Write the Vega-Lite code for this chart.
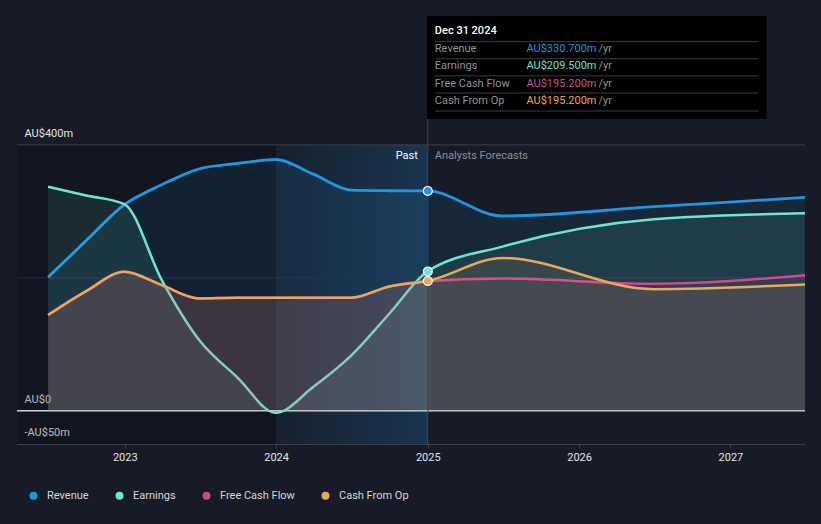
{
  "$schema": "https://vega.github.io/schema/vega-lite/v6.json",
  "width": 788,
  "height": 444,
  "padding": {"left": 17, "top": 0, "right": 16, "bottom": 80},
  "autosize": {"type": "none"},
  "background": "#161b27",
  "config": {
    "view": {"stroke": null},
    "font": "Roboto"
  },
  "datasets": {
    "fin": [
      {"date": "2022-06-30", "series": "Revenue", "value": 201},
      {"date": "2022-09-30", "series": "Revenue", "value": 256},
      {"date": "2022-12-31", "series": "Revenue", "value": 310},
      {"date": "2023-03-31", "series": "Revenue", "value": 340},
      {"date": "2023-06-30", "series": "Revenue", "value": 364},
      {"date": "2023-09-30", "series": "Revenue", "value": 372},
      {"date": "2023-12-31", "series": "Revenue", "value": 378},
      {"date": "2024-03-31", "series": "Revenue", "value": 356},
      {"date": "2024-06-30", "series": "Revenue", "value": 332},
      {"date": "2024-09-30", "series": "Revenue", "value": 331},
      {"date": "2024-12-31", "series": "Revenue", "value": 330.7},
      {"date": "2025-06-30", "series": "Revenue", "value": 293},
      {"date": "2026-06-30", "series": "Revenue", "value": 307},
      {"date": "2027-06-30", "series": "Revenue", "value": 321},
      {"date": "2022-06-30", "series": "Earnings", "value": 337},
      {"date": "2022-09-30", "series": "Earnings", "value": 324},
      {"date": "2022-12-31", "series": "Earnings", "value": 311},
      {"date": "2023-03-31", "series": "Earnings", "value": 197},
      {"date": "2023-06-30", "series": "Earnings", "value": 106},
      {"date": "2023-09-30", "series": "Earnings", "value": 50},
      {"date": "2023-12-31", "series": "Earnings", "value": -3},
      {"date": "2024-03-31", "series": "Earnings", "value": 36},
      {"date": "2024-06-30", "series": "Earnings", "value": 83},
      {"date": "2024-09-30", "series": "Earnings", "value": 146},
      {"date": "2024-12-31", "series": "Earnings", "value": 209.5},
      {"date": "2025-06-30", "series": "Earnings", "value": 247},
      {"date": "2026-06-30", "series": "Earnings", "value": 288},
      {"date": "2027-06-30", "series": "Earnings", "value": 297},
      {"date": "2022-06-30", "series": "Free Cash Flow", "value": 144},
      {"date": "2022-09-30", "series": "Free Cash Flow", "value": 180},
      {"date": "2022-12-31", "series": "Free Cash Flow", "value": 209},
      {"date": "2023-03-31", "series": "Free Cash Flow", "value": 189},
      {"date": "2023-06-30", "series": "Free Cash Flow", "value": 169},
      {"date": "2023-09-30", "series": "Free Cash Flow", "value": 170},
      {"date": "2023-12-31", "series": "Free Cash Flow", "value": 170},
      {"date": "2024-03-31", "series": "Free Cash Flow", "value": 170},
      {"date": "2024-06-30", "series": "Free Cash Flow", "value": 170},
      {"date": "2024-09-30", "series": "Free Cash Flow", "value": 187},
      {"date": "2024-12-31", "series": "Free Cash Flow", "value": 195.2},
      {"date": "2025-06-30", "series": "Free Cash Flow", "value": 199},
      {"date": "2026-06-30", "series": "Free Cash Flow", "value": 191},
      {"date": "2027-06-30", "series": "Free Cash Flow", "value": 204},
      {"date": "2022-06-30", "series": "Cash From Op", "value": 144},
      {"date": "2022-09-30", "series": "Cash From Op", "value": 180},
      {"date": "2022-12-31", "series": "Cash From Op", "value": 209},
      {"date": "2023-03-31", "series": "Cash From Op", "value": 189},
      {"date": "2023-06-30", "series": "Cash From Op", "value": 169},
      {"date": "2023-09-30", "series": "Cash From Op", "value": 170},
      {"date": "2023-12-31", "series": "Cash From Op", "value": 170},
      {"date": "2024-03-31", "series": "Cash From Op", "value": 170},
      {"date": "2024-06-30", "series": "Cash From Op", "value": 170},
      {"date": "2024-09-30", "series": "Cash From Op", "value": 187},
      {"date": "2024-12-31", "series": "Cash From Op", "value": 195.2},
      {"date": "2025-06-30", "series": "Cash From Op", "value": 230},
      {"date": "2026-06-30", "series": "Cash From Op", "value": 183},
      {"date": "2027-06-30", "series": "Cash From Op", "value": 190}
    ],
    "tip": [
      {"row": 1, "series": "Revenue", "label": "Revenue", "value": "AU$330.700m"},
      {"row": 2, "series": "Earnings", "label": "Earnings", "value": "AU$209.500m"},
      {"row": 3, "series": "Free Cash Flow", "label": "Free Cash Flow", "value": "AU$195.200m"},
      {"row": 4, "series": "Cash From Op", "label": "Cash From Op", "value": "AU$195.200m"}
    ]
  },
  "layer": [
    {
      "layer": [
        {
          "data": {"values": [{}]},
          "mark": {"type": "rect", "fill": "#000000", "opacity": 0.2},
          "encoding": {
            "x": {"datum": {"year": 2022, "month": 4, "date": 16, "utc": true}, "type": "temporal",
              "scale": {"domain": [{"year": 2022, "month": 4, "date": 16, "utc": true}, {"year": 2027, "month": 6, "date": 30, "utc": true}]},
              "axis": {"format": "%Y", "tickCount": "year", "grid": false, "domain": true, "domainColor": "#3b414d", "ticks": true, "tickColor": "#3b414d", "tickSize": 4, "labelColor": "#e2e4e8", "labelFontSize": 11, "labelPadding": 3, "title": null}},
            "x2": {"datum": {"year": 2024, "month": 1, "date": 1, "utc": true}},
            "y": {"datum": -50, "type": "quantitative",
              "scale": {"domain": [-50, 618], "nice": false, "zero": false},
              "axis": {"values": [-50, 0, 400], "labelExpr": "datum.value == 400 ? 'AU$400m' : datum.value == 0 ? 'AU$0' : '-AU$50m'", "grid": false, "domain": false, "ticks": false, "tickSize": 0, "labelAlign": "left", "labelBaseline": "alphabetic", "labelPadding": -7, "labelOffset": -8.5, "labelColor": "#e2e4e8", "labelFontSize": 11, "title": null}},
            "y2": {"datum": 400}
          }
        },
        {
          "data": {"values": [{}]},
          "mark": {"type": "rect", "color": {"gradient": "linear", "x1": 0, "y1": 0, "x2": 1, "y2": 0, "stops": [{"offset": 0, "color": "rgba(35,148,223,0.05)"}, {"offset": 1, "color": "rgba(35,148,223,0.22)"}]}},
          "encoding": {
            "x": {"datum": {"year": 2024, "month": 1, "date": 1, "utc": true}, "type": "temporal"},
            "x2": {"datum": {"year": 2025, "month": 1, "date": 1, "utc": true}},
            "y": {"datum": -50, "type": "quantitative", "scale": {"domain": [-50, 618], "nice": false, "zero": false}},
            "y2": {"datum": 400}
          }
        },
        {"data": {"values": [{}]}, "mark": {"type": "rule", "color": "#3a404c", "strokeWidth": 1}, "encoding": {"y": {"datum": 400, "type": "quantitative", "scale": {"domain": [-50, 618], "nice": false, "zero": false}}}},
        {"data": {"values": [{}]}, "mark": {"type": "rule", "color": "#262e3c", "strokeWidth": 1}, "encoding": {"y": {"datum": 200, "type": "quantitative", "scale": {"domain": [-50, 618], "nice": false, "zero": false}}}},
        {"data": {"values": [{}]}, "mark": {"type": "rule", "color": "#cfd3d8", "strokeWidth": 1.5}, "encoding": {"y": {"datum": 0, "type": "quantitative", "scale": {"domain": [-50, 618], "nice": false, "zero": false}}}},
        {
          "data": {"name": "fin"},
          "transform": [{"filter": "datum.series == 'Revenue'"}],
          "mark": {"type": "area", "interpolate": "monotone", "fillOpacity": 0.11, "line": {"strokeWidth": 2.8, "interpolate": "monotone"}},
          "encoding": {
            "x": {"field": "date", "type": "temporal"},
            "y": {"field": "value", "type": "quantitative", "stack": null, "scale": {"domain": [-50, 618], "nice": false, "zero": false}},
            "color": {"field": "series", "type": "nominal",
              "scale": {"domain": ["Revenue", "Earnings", "Free Cash Flow", "Cash From Op"], "range": ["#2394df", "#6ee5d3", "#cf4a8c", "#e9a95a"]},
              "legend": {"orient": "none", "legendX": 11, "legendY": 490, "direction": "horizontal", "symbolType": "circle", "symbolSize": 64, "symbolOpacity": 1, "symbolStrokeWidth": 0, "labelFontSize": 11, "labelColor": "#d5d8dc", "labelOffset": 8, "columnPadding": 25, "padding": 0, "title": null}}
          }
        },
        {
          "data": {"name": "fin"},
          "transform": [{"filter": "datum.series == 'Earnings'"}],
          "mark": {"type": "area", "interpolate": "monotone", "fillOpacity": 0.11, "line": {"strokeWidth": 2.5, "interpolate": "monotone"}},
          "encoding": {
            "x": {"field": "date", "type": "temporal"},
            "y": {"field": "value", "type": "quantitative", "stack": null, "scale": {"domain": [-50, 618], "nice": false, "zero": false}},
            "color": {"field": "series", "type": "nominal"}
          }
        },
        {
          "data": {"name": "fin"},
          "transform": [{"filter": "datum.series == 'Free Cash Flow'"}],
          "mark": {"type": "area", "interpolate": "monotone", "fillOpacity": 0.11, "line": {"strokeWidth": 2.5, "interpolate": "monotone"}},
          "encoding": {
            "x": {"field": "date", "type": "temporal"},
            "y": {"field": "value", "type": "quantitative", "stack": null, "scale": {"domain": [-50, 618], "nice": false, "zero": false}},
            "color": {"field": "series", "type": "nominal"}
          }
        },
        {
          "data": {"name": "fin"},
          "transform": [{"filter": "datum.series == 'Cash From Op'"}],
          "mark": {"type": "area", "interpolate": "monotone", "fillOpacity": 0.11, "line": {"strokeWidth": 2.5, "interpolate": "monotone"}},
          "encoding": {
            "x": {"field": "date", "type": "temporal"},
            "y": {"field": "value", "type": "quantitative", "stack": null, "scale": {"domain": [-50, 618], "nice": false, "zero": false}},
            "color": {"field": "series", "type": "nominal"}
          }
        },
        {
          "data": {"values": [{}]},
          "mark": {"type": "rule", "color": "#2d4c6b", "strokeWidth": 1},
          "encoding": {
            "x": {"datum": {"year": 2025, "month": 1, "date": 1, "utc": true}, "type": "temporal"},
            "y": {"datum": -50, "type": "quantitative", "scale": {"domain": [-50, 618], "nice": false, "zero": false}},
            "y2": {"datum": 594}
          }
        },
        {
          "data": {"name": "fin"},
          "transform": [{"filter": "utcyear(datum.date) == 2024 && utcmonth(datum.date) == 11 && datum.series != 'Free Cash Flow'"}],
          "mark": {"type": "point", "filled": true, "size": 80, "stroke": "#ffffff", "strokeWidth": 1.2, "opacity": 1},
          "encoding": {
            "x": {"datum": {"year": 2025, "month": 1, "date": 1, "utc": true}, "type": "temporal"},
            "y": {"field": "value", "type": "quantitative", "scale": {"domain": [-50, 618], "nice": false, "zero": false}},
            "fill": {"field": "series", "type": "nominal", "legend": null, "scale": {"domain": ["Revenue", "Earnings", "Free Cash Flow", "Cash From Op"], "range": ["#2394df", "#6ee5d3", "#cf4a8c", "#e9a95a"]}}
          }
        },
        {
          "data": {"values": [{}]},
          "mark": {"type": "text", "text": "Past", "align": "right", "baseline": "middle", "dx": -10, "color": "#ffffff", "fontSize": 11},
          "encoding": {
            "x": {"datum": {"year": 2025, "month": 1, "date": 1, "utc": true}, "type": "temporal"},
            "y": {"datum": 383, "type": "quantitative", "scale": {"domain": [-50, 618], "nice": false, "zero": false}}
          }
        },
        {
          "data": {"values": [{}]},
          "mark": {"type": "text", "text": "Analysts Forecasts", "align": "left", "baseline": "middle", "dx": 7, "color": "#8a8f98", "fontSize": 11},
          "encoding": {
            "x": {"datum": {"year": 2025, "month": 1, "date": 1, "utc": true}, "type": "temporal"},
            "y": {"datum": 383, "type": "quantitative", "scale": {"domain": [-50, 618], "nice": false, "zero": false}}
          }
        }
      ]
    },
    {
      "layer": [
        {
          "data": {"values": [{}]},
          "mark": {"type": "rect", "fill": "#000000"},
          "encoding": {
            "x": {"datum": {"year": 2024, "month": 12, "date": 30, "utc": true}, "type": "temporal"},
            "x2": {"datum": {"year": 2027, "month": 3, "date": 29, "utc": true}},
            "y": {"datum": -0.944, "type": "quantitative", "scale": {"domain": [-1.878, 24.04], "reverse": true, "nice": false, "zero": false}, "axis": null},
            "y2": {"datum": 5.069}
          }
        },
        {
          "data": {"values": [{}]},
          "mark": {"type": "text", "text": "Dec 31 2024", "align": "left", "baseline": "middle", "color": "#ffffff", "fontSize": 11, "fontWeight": 500},
          "encoding": {
            "x": {"datum": {"year": 2025, "month": 1, "date": 18, "utc": true}, "type": "temporal"},
            "y": {"datum": -0.07, "type": "quantitative", "scale": {"domain": [-1.878, 24.04], "reverse": true, "nice": false, "zero": false}, "axis": null}
          }
        },
        {
          "data": {"name": "tip"},
          "mark": {"type": "rule", "color": "#3c3c3c", "strokeWidth": 1, "yOffset": -7.7},
          "encoding": {
            "x": {"datum": {"year": 2025, "month": 1, "date": 18, "utc": true}, "type": "temporal"},
            "x2": {"datum": {"year": 2027, "month": 3, "date": 10, "utc": true}},
            "y": {"field": "row", "type": "quantitative", "scale": {"domain": [-1.878, 24.04], "reverse": true, "nice": false, "zero": false}, "axis": null}
          }
        },
        {
          "data": {"values": [{}]},
          "mark": {"type": "rule", "color": "#3c3c3c", "strokeWidth": 1},
          "encoding": {
            "x": {"datum": {"year": 2025, "month": 1, "date": 18, "utc": true}, "type": "temporal"},
            "x2": {"datum": {"year": 2027, "month": 3, "date": 10, "utc": true}},
            "y": {"datum": 4.602, "type": "quantitative", "scale": {"domain": [-1.878, 24.04], "reverse": true, "nice": false, "zero": false}, "axis": null}
          }
        },
        {
          "data": {"name": "tip"},
          "mark": {"type": "text", "align": "left", "baseline": "middle", "color": "#8f939a", "fontSize": 11},
          "encoding": {
            "x": {"datum": {"year": 2025, "month": 1, "date": 18, "utc": true}, "type": "temporal"},
            "y": {"field": "row", "type": "quantitative", "scale": {"domain": [-1.878, 24.04], "reverse": true, "nice": false, "zero": false}, "axis": null},
            "text": {"field": "label"}
          }
        },
        {
          "data": {"name": "tip"},
          "mark": {"type": "text", "align": "left", "baseline": "middle", "fontSize": 11},
          "encoding": {
            "x": {"datum": {"year": 2025, "month": 8, "date": 27, "utc": true}, "type": "temporal"},
            "y": {"field": "row", "type": "quantitative", "scale": {"domain": [-1.878, 24.04], "reverse": true, "nice": false, "zero": false}, "axis": null},
            "text": {"field": "value"},
            "color": {"field": "series", "type": "nominal"}
          }
        },
        {
          "data": {"name": "tip"},
          "mark": {"type": "text", "text": "/yr", "align": "left", "baseline": "middle", "color": "#8f939a", "fontSize": 11},
          "encoding": {
            "x": {"datum": {"year": 2026, "month": 2, "date": 17, "utc": true}, "type": "temporal"},
            "y": {"field": "row", "type": "quantitative", "scale": {"domain": [-1.878, 24.04], "reverse": true, "nice": false, "zero": false}, "axis": null}
          }
        }
      ]
    }
  ],
  "resolve": {"scale": {"y": "independent"}, "axis": {"y": "independent"}}
}
